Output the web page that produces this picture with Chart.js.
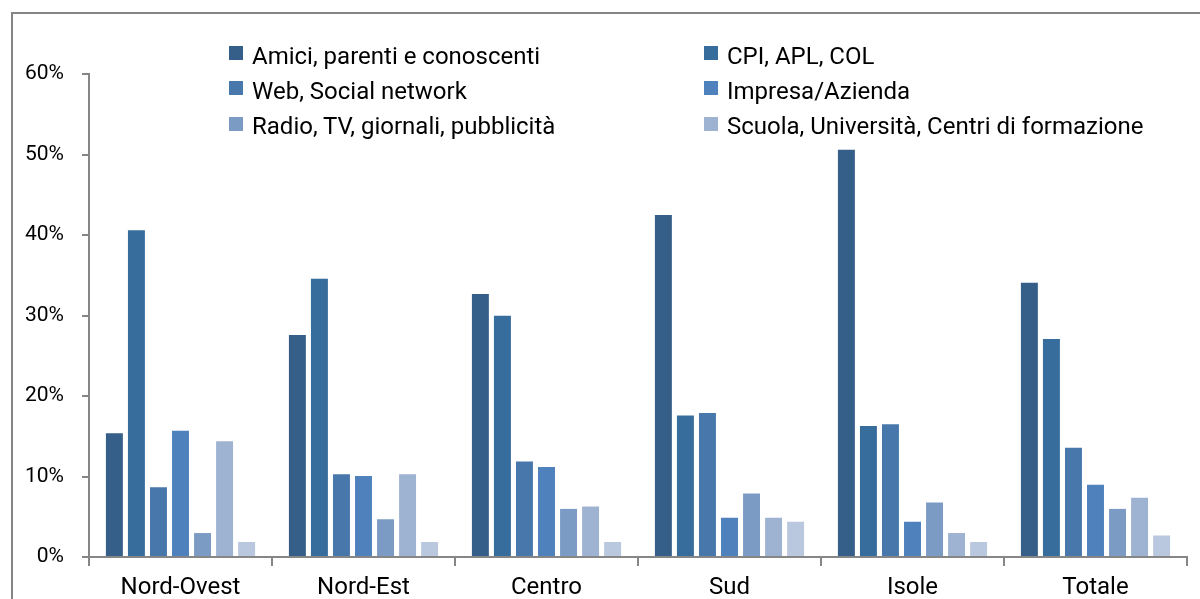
<!DOCTYPE html>
<html><head><meta charset="utf-8">
<script src="https://cdn.jsdelivr.net/npm/chart.js@4"></script>
<style>
html,body{margin:0;padding:0;background:#fff;overflow:hidden}
#wrap{position:relative;width:1200px;height:599px;overflow:hidden}
#c{position:absolute;left:0;top:0}
#frame{position:absolute;left:11px;top:12px;width:1300px;height:700px;border-left:2px solid #858585;border-top:2px solid #858585;pointer-events:none}
.lg{position:absolute;font-family:Roboto,sans-serif;font-size:24px;line-height:24px;color:#000;white-space:nowrap}
.bx{position:absolute;width:14px;height:14px}
</style></head><body>
<div id="wrap"><canvas id="c" width="1200" height="599"></canvas><div id="frame"></div><div id="legend"></div></div>
<script>
const categories = ['Nord-Ovest', 'Nord-Est', 'Centro', 'Sud', 'Isole', 'Totale'];
const seriesNames = ['Amici, parenti e conoscenti', 'CPI, APL, COL', 'Web, Social network', 'Impresa/Azienda', 'Radio, TV, giornali, pubblicità', 'Scuola, Università, Centri di formazione', 'Altro'];
const amici   = [15.5, 27.7, 32.8, 42.6, 50.7, 34.2];
const cpi     = [40.7, 34.7, 30.1, 17.7, 16.4, 27.2];
const web     = [8.8, 10.4, 12.0, 18.0, 16.6, 13.7];
const impresa = [15.8, 10.2, 11.3, 5.0, 4.5, 9.1];
const radio   = [3.1, 4.8, 6.1, 8.0, 6.9, 6.1];
const scuola  = [14.5, 10.4, 6.4, 5.0, 3.1, 7.5];
const altro   = [2.0, 2.0, 2.0, 4.5, 2.0, 2.8];
const legendShown = [true, true, true, true, true, true, false];
const yTickMax = 60;
const yTickStep = 10;

const colors = ['#355e89', '#376d9d', '#4877ab', '#4f81bd', '#7b9bc5', '#9eb2d2', '#b9c8de'];
const values = [amici, cpi, web, impresa, radio, scuola, altro];

const datasets = values.map((v, i) => ({
  label: seriesNames[i],
  data: v,
  backgroundColor: colors[i],
  borderColor: 'rgba(255,255,255,0.45)',
  borderWidth: 1,
  categoryPercentage: 0.843,
  barPercentage: 0.86
}));

// HTML legend (2 columns x 3 rows)
const lg = document.getElementById('legend');
const colX = [229, 704];
let k = 0;
seriesNames.forEach((name, i) => {
  if (!legendShown[i]) return;
  const col = k % 2, row = Math.floor(k / 2);
  const bx = document.createElement('div');
  bx.className = 'bx';
  bx.style.left = colX[col] + 'px';
  bx.style.top = (46 + row * 35.4) + 'px';
  bx.style.background = colors[i];
  lg.appendChild(bx);
  const t = document.createElement('div');
  t.className = 'lg';
  t.style.left = (colX[col] + 23) + 'px';
  t.style.top = (43.6 + row * 35.4) + 'px';
  t.textContent = name;
  lg.appendChild(t);
  k++;
});

const axisGray = '#868686';
new Chart(document.getElementById('c'), {
  type: 'bar',
  data: { labels: categories, datasets },
  options: {
    responsive: false,
    animation: false,
    devicePixelRatio: 1,
    layout: { padding: { top: 74, right: 13, left: 0, bottom: 0 } },
    plugins: { legend: { display: false }, tooltip: { enabled: false } },
    scales: {
      x: {
        grid: { display: true, drawOnChartArea: false, drawTicks: true, tickLength: 9, color: axisGray, lineWidth: 2, offset: true },
        border: { display: true, color: axisGray, width: 2 },
        ticks: { font: { family: 'Roboto', size: 24 }, color: '#000', padding: 8, maxRotation: 0, autoSkip: false },
        afterFit(s) { s.height = 42; }
      },
      y: {
        min: 0, max: yTickMax,
        grid: { drawOnChartArea: false, drawTicks: true, tickLength: 7, color: axisGray, lineWidth: 2 },
        border: { display: true, color: axisGray, width: 2 },
        ticks: { stepSize: yTickStep, callback: v => v + '%', font: { family: 'Roboto', size: 21 }, color: '#000', padding: 18 },
        afterFit(s) { s.width = 89; }
      }
    }
  }
});
</script>
</body></html>
